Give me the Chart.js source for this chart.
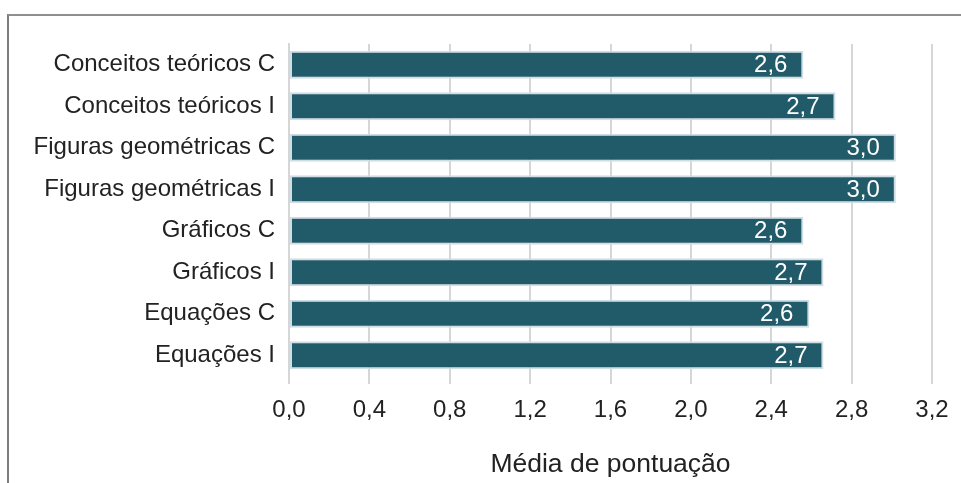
<!DOCTYPE html>
<html>
<head>
<meta charset="utf-8">
<script src="https://cdn.jsdelivr.net/npm/chart.js@4.4.1/dist/chart.umd.min.js"></script>
<style>
	body { margin: 0; background: #fff; }
	#wrap { position: relative; width: 961px; height: 483px; }
	#frame { position: absolute; left: 7px; top: 14px; right: 0; bottom: 0; border-top: 2px solid #8f8f8f; border-left: 2px solid #7d7d7d; }
	#box { position: absolute; left: 0; top: 0; width: 961px; height: 483px; }
</style>
</head>
<body>
<div id="wrap">
	<div id="frame"></div>
	<div id="box"><canvas id="media_bar"></canvas></div>
</div>
<script>
const categories = [
	'Conceitos teóricos C',
	'Conceitos teóricos I',
	'Figuras geométricas C',
	'Figuras geométricas I',
	'Gráficos C',
	'Gráficos I',
	'Equações C',
	'Equações I'
];
const values = [2.56, 2.72, 3.02, 3.02, 2.56, 2.66, 2.59, 2.66];
const xTicks = [0, 0.4, 0.8, 1.2, 1.6, 2.0, 2.4, 2.8, 3.2];
const axisTitle = 'Média de pontuação';

const fmt = (v) => Number(v).toFixed(1).replace('.', ',');
const FONT = 'Liberation Sans, Arial, sans-serif';

// value labels inside the end of each bar
const barLabels = {
	id: 'barLabels',
	afterDatasetsDraw(chart) {
		const ctx = chart.ctx;
		const meta = chart.getDatasetMeta(0);
		ctx.save();
		ctx.font = '24px ' + FONT;
		ctx.fillStyle = '#ffffff';
		ctx.textAlign = 'right';
		ctx.textBaseline = 'middle';
		meta.data.forEach((bar, i) => {
			ctx.fillText(fmt(values[i]), bar.x - 16, bar.y + 1);
		});
		ctx.restore();
	}
};

const data = {
	labels: categories,
	datasets: [{
		label: '',
		data: values,
		backgroundColor: '#215a68',
		borderColor: '#cfdde4',
		borderWidth: 2,
		borderSkipped: false,
		categoryPercentage: 1,
		barPercentage: 0.68
	}]
};

const config = {
	type: 'bar',
	data: data,
	options: {
		indexAxis: 'y',
		responsive: true,
		maintainAspectRatio: false,
		animation: false,
		layout: {
			padding: { top: 44, right: 29, left: 0, bottom: 0 }
		},
		scales: {
			x: {
				min: 0,
				max: 3.2,
				afterBuildTicks: (s) => { s.ticks = xTicks.map(v => ({ value: v })); },
				afterFit: (s) => { s.height = 107; },
				grid: { color: '#d6d6d6', lineWidth: 2, tickLength: 8 },
				border: { display: false },
				ticks: {
					padding: 12,
					color: '#222222',
					font: { family: FONT, size: 24 },
					callback: (v) => fmt(v)
				},
				title: {
					display: true,
					text: axisTitle,
					color: '#222222',
					font: { family: FONT, size: 26.5 },
					padding: { top: 0, bottom: 2 }
				}
			},
			y: {
				afterFit: (s) => { s.width = 289; },
				grid: { display: false },
				border: { display: true, color: '#d6d6d6', width: 2 },
				ticks: {
					padding: 6,
					color: '#222222',
					font: { family: FONT, size: 24 }
				}
			}
		},
		plugins: {
			legend: { display: false },
			tooltip: { enabled: false }
		}
	},
	plugins: [barLabels]
};

var ctx = document.getElementById('media_bar');
if (ctx != null) {
	const chart = new Chart(ctx, config);
}
</script>
</body>
</html>
